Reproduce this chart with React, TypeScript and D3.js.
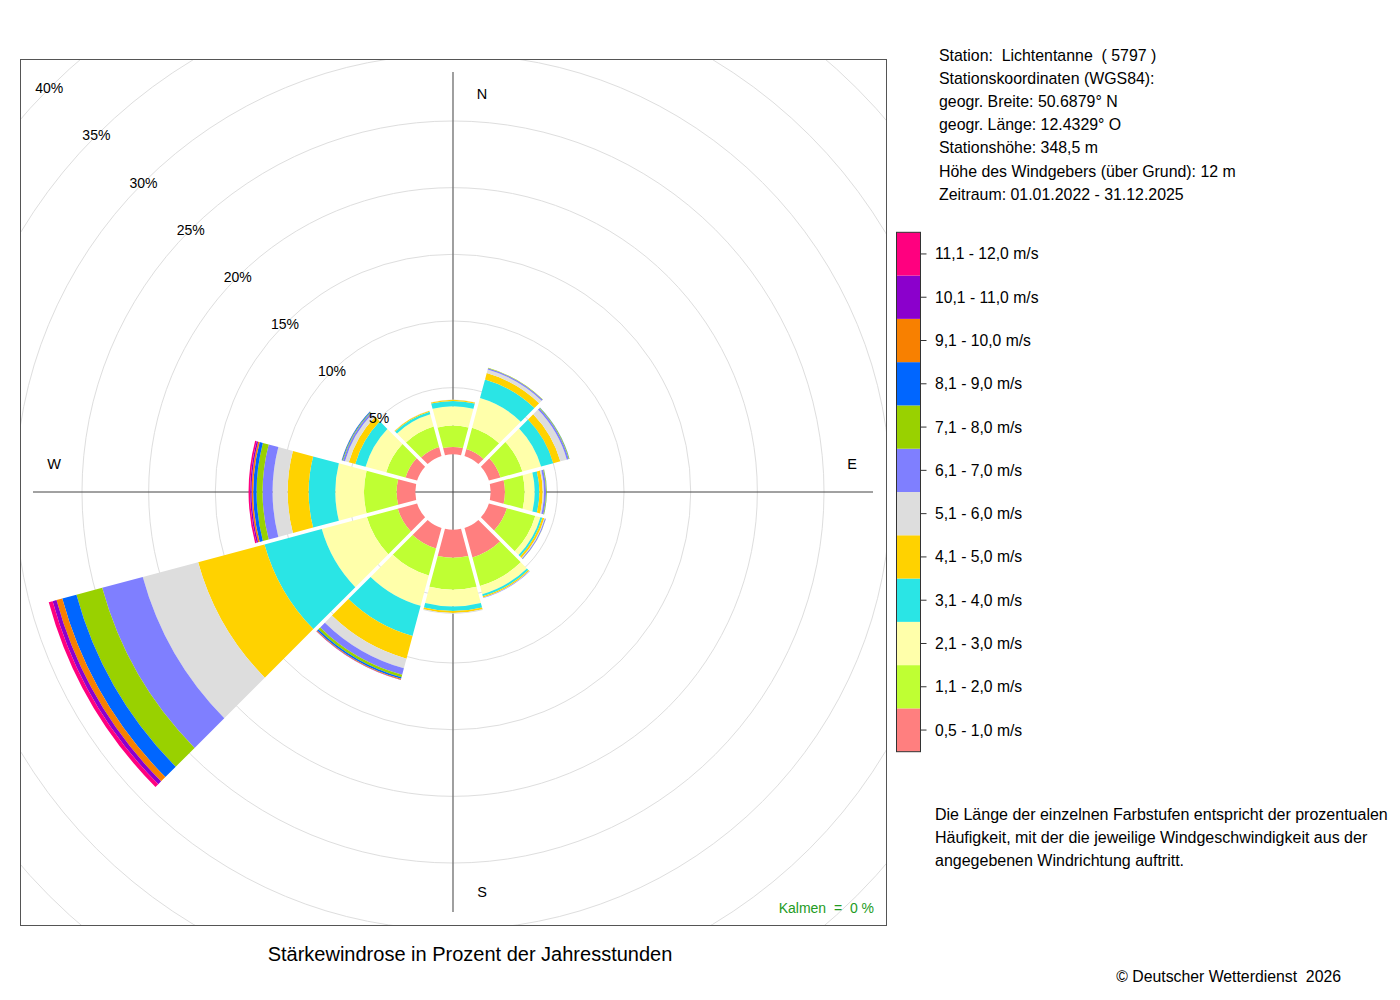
import { useEffect, useRef } from 'react'
import * as d3 from 'd3'

// wind directions (degrees, clockwise from north)
const directions = [0, 30, 60, 90, 120, 150, 180, 210, 240, 270, 300, 330]

// percent of year hours per speed class, one value per direction
const f05to10 = [0.55, 0.55, 0.9, 1.07, 1.4, 2.3, 2.1, 1.6, 1.5, 1.4, 0.9, 0.7]
const f11to20 = [1.6, 1.65, 1.7, 1.48, 2.2, 2.2, 2.4, 2.1, 2.4, 2.45, 1.5, 1.6]
const f21to30 = [1.45, 2.3, 1.45, 0.75, 0.4, 0.65, 1.25, 2.35, 3.5, 2.15, 1.6, 0.95]
const f31to40 = [0.4, 1.45, 0.95, 0.35, 0.15, 0.15, 0.35, 2.35, 4.45, 2.0, 0.8, 0.2]
const f41to50 = [0.08, 0.5, 0.55, 0.25, 0.15, 0.1, 0.15, 1.75, 5.15, 1.57, 0.5, 0.07]
const f51to60 = [0.02, 0.27, 0.5, 0.1, 0.05, 0.02, 0.05, 0.75, 4.3, 1.13, 0.3, 0.01]
const f61to70 = [0, 0.1, 0.15, 0.15, 0.07, 0.03, 0, 0.5, 3.15, 0.75, 0.15, 0]
const f71to80 = [0, 0.03, 0.05, 0.05, 0.01, 0, 0, 0.2, 2.0, 0.45, 0.05, 0]
const f81to90 = [0, 0, 0.01, 0.01, 0, 0, 0, 0.12, 1.1, 0.25, 0.05, 0]
const f91to100 = [0, 0, 0, 0, 0, 0, 0, 0.06, 0.45, 0.12, 0.01, 0]
const f101to110 = [0, 0, 0, 0, 0, 0, 0, 0.02, 0.3, 0.11, 0, 0]
const f111to120 = [0, 0, 0, 0, 0, 0, 0, 0.01, 0.3, 0.12, 0, 0]

const speedLabels = [
    '0,5 - 1,0 m/s', '1,1 - 2,0 m/s', '2,1 - 3,0 m/s', '3,1 - 4,0 m/s',
    '4,1 - 5,0 m/s', '5,1 - 6,0 m/s', '6,1 - 7,0 m/s', '7,1 - 8,0 m/s',
    '8,1 - 9,0 m/s', '9,1 - 10,0 m/s', '10,1 - 11,0 m/s', '11,1 - 12,0 m/s'
]
const speedColors = [
    '#ff7f7f', '#bfff33', '#ffffaa', '#2ae5e5', '#ffd200', '#dddddd',
    '#7f7fff', '#99d100', '#0066ff', '#f88000', '#8b00cc', '#ff007f'
]

const ringTicks = [5, 10, 15, 20, 25, 30, 35, 40]
const compass = [
    { label: 'N', dx: 29, dy: -398 },
    { label: 'S', dx: 29, dy: 400 },
    { label: 'W', dx: -399, dy: -28 },
    { label: 'E', dx: 399, dy: -28 }
]

const stationLines = [
    'Station:  Lichtentanne  ( 5797 )',
    'Stationskoordinaten (WGS84):',
    'geogr. Breite: 50.6879° N',
    'geogr. Länge: 12.4329° O',
    'Stationshöhe: 348,5 m',
    'Höhe des Windgebers (über Grund): 12 m',
    'Zeitraum: 01.01.2022 - 31.12.2025'
]
const noteLines = [
    'Die Länge der einzelnen Farbstufen entspricht der prozentualen',
    'Häufigkeit, mit der die jeweilige Windgeschwindigkeit aus der',
    'angegebenen Windrichtung auftritt.'
]

const FONT = '"Liberation Sans", Arial, Helvetica, sans-serif'

export default function App() {
    const svgRef = useRef<SVGSVGElement>(null)

    useEffect(() => {
        if (!svgRef.current) return
        const svg = d3.select(svgRef.current)
        svg.selectAll('*').remove()

        const width = 1400
        const height = 1000
        const cx = 453
        const cy = 492
        const box = { x0: 20, y0: 59, x1: 886, y1: 925 }

        svg.attr('width', width).attr('height', height)
            .style('font-family', FONT)

        const r = d3.scaleLinear().domain([0, 40]).range([37.7, 571])

        // clip for grid circles
        svg.append('defs').append('clipPath').attr('id', 'plotClip')
            .append('rect')
            .attr('x', box.x0).attr('y', box.y0)
            .attr('width', box.x1 - box.x0).attr('height', box.y1 - box.y0)

        const plot = svg.append('g').attr('clip-path', 'url(#plotClip)')

        // rings
        plot.selectAll('.ring')
            .data(ringTicks)
            .enter()
            .append('circle')
            .attr('cx', cx).attr('cy', cy)
            .attr('r', d => r(d))
            .attr('fill', 'none')
            .attr('stroke', '#dedede')
            .attr('stroke-width', 1)

        // axes
        plot.append('line')
            .attr('x1', cx).attr('x2', cx).attr('y1', cy - 420).attr('y2', cy + 420)
            .attr('stroke', '#777').attr('stroke-width', 1.4)
        plot.append('line')
            .attr('x1', cx - 420).attr('x2', cx + 420).attr('y1', cy).attr('y2', cy)
            .attr('stroke', '#444').attr('stroke-width', 1)

        // stacked sectors
        const series = [f05to10, f11to20, f21to30, f31to40, f41to50, f51to60,
            f61to70, f71to80, f81to90, f91to100, f101to110, f111to120]
        const keys = series.map((_, i) => `c${i}`)
        const table = directions.map((dir, j) => {
            const row: Record<string, number> = { dir }
            series.forEach((s, i) => { row[keys[i]] = s[j] })
            return row
        })
        const stacked = d3.stack<Record<string, number>>().keys(keys)(table)

        const arc = d3.arc<any>()
            .innerRadius(d => r(d[0]))
            .outerRadius(d => r(d[1]))
            .startAngle(d => (d.data.dir - 15) * Math.PI / 180)
            .endAngle(d => (d.data.dir + 15) * Math.PI / 180)
            .padAngle(0.036)
            .padRadius(100)

        const sectors = plot.append('g').attr('transform', `translate(${cx},${cy})`)
        stacked.forEach((layer, i) => {
            sectors.selectAll(`.band${i}`)
                .data(layer.filter(d => d[1] - d[0] > 0))
                .enter()
                .append('path')
                .attr('class', `band${i}`)
                .attr('d', arc)
                .attr('fill', speedColors[i])
        })

        // percent labels along the NW diagonal
        plot.selectAll('.pct')
            .data(ringTicks)
            .enter()
            .append('text')
            .attr('x', d => cx - r(d) * Math.SQRT1_2)
            .attr('y', d => cy - r(d) * Math.SQRT1_2)
            .attr('text-anchor', 'middle')
            .attr('dominant-baseline', 'central')
            .style('font-size', '14px')
            .text(d => `${d}%`)

        // compass letters
        plot.selectAll('.dirlab')
            .data(compass)
            .enter()
            .append('text')
            .attr('x', d => cx + d.dx)
            .attr('y', d => cy + d.dy)
            .attr('text-anchor', 'middle')
            .attr('dominant-baseline', 'central')
            .style('font-size', '14.5px')
            .text(d => d.label)

        // frame
        svg.append('rect')
            .attr('x', box.x0 + 0.5).attr('y', box.y0 + 0.5)
            .attr('width', box.x1 - box.x0).attr('height', box.y1 - box.y0)
            .attr('fill', 'none').attr('stroke', '#555').attr('stroke-width', 1)

        svg.append('text')
            .attr('x', 874).attr('y', 908)
            .attr('text-anchor', 'end').attr('dominant-baseline', 'central')
            .style('font-size', '14px').attr('fill', '#239b23')
            .style('white-space', 'pre')
            .text('Kalmen  =  0 %')

        svg.append('text')
            .attr('x', 470).attr('y', 954)
            .attr('text-anchor', 'middle').attr('dominant-baseline', 'central')
            .style('font-size', '20px')
            .text('Stärkewindrose in Prozent der Jahresstunden')

        svg.append('text')
            .attr('x', 1341).attr('y', 976)
            .attr('text-anchor', 'end').attr('dominant-baseline', 'central')
            .style('font-size', '15.8px').style('white-space', 'pre')
            .text('© Deutscher Wetterdienst  2026')

        // station info
        svg.selectAll('.station')
            .data(stationLines)
            .enter()
            .append('text')
            .attr('x', 939)
            .attr('y', (d, i) => 55 + i * 23.2)
            .attr('dominant-baseline', 'central')
            .style('font-size', '15.9px').style('white-space', 'pre')
            .text(d => d)

        // legend
        const legTop = 232.3
        const legBottom = 751.7
        const ly = d3.scaleBand<number>()
            .domain(d3.range(speedLabels.length).reverse())
            .range([legTop, legBottom])
        const legend = svg.append('g')
        legend.selectAll('rect.leg')
            .data(d3.range(speedLabels.length))
            .enter()
            .append('rect')
            .attr('class', 'leg')
            .attr('x', 896.5).attr('width', 24)
            .attr('y', d => ly(d)!)
            .attr('height', ly.bandwidth())
            .attr('fill', d => speedColors[d])
        legend.append('rect')
            .attr('x', 896.5).attr('y', legTop).attr('width', 24).attr('height', legBottom - legTop)
            .attr('fill', 'none').attr('stroke', '#333').attr('stroke-width', 1)
        legend.selectAll('line.tick')
            .data(d3.range(speedLabels.length))
            .enter()
            .append('line')
            .attr('x1', 920.5).attr('x2', 926.5)
            .attr('y1', d => ly(d)! + ly.bandwidth() / 2)
            .attr('y2', d => ly(d)! + ly.bandwidth() / 2)
            .attr('stroke', '#333')
        legend.selectAll('text.leglab')
            .data(d3.range(speedLabels.length))
            .enter()
            .append('text')
            .attr('x', 935)
            .attr('y', d => ly(d)! + ly.bandwidth() / 2)
            .attr('dominant-baseline', 'central')
            .style('font-size', '15.7px')
            .text(d => speedLabels[d])

        // explanation
        svg.selectAll('.note')
            .data(noteLines)
            .enter()
            .append('text')
            .attr('x', 935)
            .attr('y', (d, i) => 814 + i * 23)
            .attr('dominant-baseline', 'central')
            .style('font-size', '16px')
            .text(d => d)
    }, [])

    return (
        <svg ref={svgRef} style={{ position: 'absolute', left: 0, top: 0, background: '#fff' }}></svg>
    )
}
